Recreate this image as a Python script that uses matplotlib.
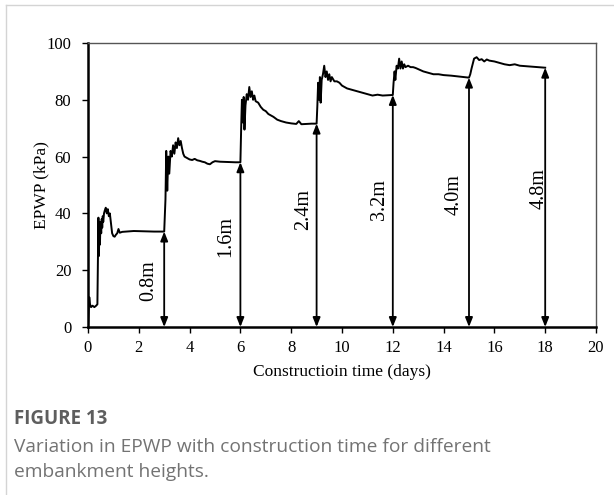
import matplotlib
matplotlib.use("Agg")
import matplotlib.pyplot as plt
from matplotlib.lines import Line2D

# Excess pore water pressure record (time in days, EPWP in kPa)
time_days = [
    0.0, 0.02, 0.05, 0.08, 0.12, 0.18, 0.25, 0.32, 0.37, 0.39, 0.41, 0.43, 0.45, 0.47,
    0.49, 0.52, 0.54, 0.56, 0.58, 0.60, 0.63, 0.66, 0.70, 0.74, 0.78, 0.82, 0.86, 0.90,
    0.95, 1.00, 1.05, 1.10, 1.15, 1.20, 1.25, 1.35, 1.50, 1.80, 2.20, 2.60, 2.95, 3.00,
    3.05, 3.08, 3.12, 3.16, 3.20, 3.25, 3.30, 3.35, 3.40, 3.45, 3.50, 3.55, 3.60, 3.65,
    3.70, 3.75, 3.80, 3.90, 4.00, 4.10, 4.20, 4.30, 4.40, 4.50, 4.60, 4.70, 4.80, 4.90,
    5.00, 5.20, 5.50, 5.80, 6.00,
    6.03, 6.06, 6.10, 6.13, 6.16, 6.20, 6.25, 6.30, 6.35, 6.40, 6.45, 6.50, 6.55, 6.60,
    6.70, 6.80, 6.90, 7.00, 7.10, 7.20, 7.30, 7.45, 7.60, 7.80, 8.00, 8.20, 8.30, 8.40,
    8.60, 8.80, 9.00,
    9.03, 9.06, 9.10, 9.13, 9.16, 9.20, 9.25, 9.30, 9.35, 9.40, 9.45, 9.50, 9.55, 9.60,
    9.70, 9.80, 9.90, 10.0, 10.2, 10.4, 10.6, 10.8, 11.0, 11.2, 11.4, 11.6, 11.8, 12.0,
    12.03, 12.07, 12.10, 12.15, 12.20, 12.25, 12.30, 12.35, 12.40, 12.45, 12.50, 12.60,
    12.70, 12.80, 12.90, 13.0, 13.2, 13.4, 13.6, 13.8, 14.0, 14.3, 14.6, 14.8, 15.0,
    15.05, 15.10, 15.20, 15.30, 15.40, 15.50, 15.60, 15.70, 15.80, 16.0, 16.2, 16.4,
    16.6, 16.8, 17.0, 17.3, 17.6, 17.8, 18.0,
]
epwp_kpa = [
    0.0, 4.0, 10.5, 8.0, 7.0, 7.5, 7.0, 7.5, 8.0, 22.0, 38.5, 25.0, 36.0, 29.0,
    37.0, 33.0, 38.0, 35.0, 39.0, 37.0, 40.0, 41.0, 42.0, 40.0, 41.5, 39.0, 40.0, 37.0,
    33.0, 32.0, 31.8, 32.5, 33.0, 34.5, 33.2, 33.5, 33.6, 33.8, 33.7, 33.6, 33.6, 33.6,
    45.0, 62.0, 48.0, 60.0, 54.0, 62.0, 60.0, 64.0, 61.0, 65.0, 63.0, 66.5, 64.0, 65.5,
    63.0, 61.0, 60.0, 59.5, 59.0, 58.8, 59.2, 58.7, 58.5, 58.2, 58.0, 57.5, 57.3, 58.0,
    58.4, 58.2, 58.1, 58.0, 58.0,
    70.0, 80.0, 72.0, 81.0, 69.5, 78.0, 82.0, 80.0, 84.5, 81.0, 83.0, 80.0, 81.5, 79.5,
    79.0, 77.5, 76.5, 76.0, 75.0, 74.5, 74.0, 73.0, 72.5, 72.0, 71.7, 71.5, 72.5, 71.4,
    71.5, 71.6, 71.6,
    78.0, 86.0, 80.0, 88.0, 79.0, 87.0, 89.0, 92.0, 88.0, 90.0, 87.0, 89.0, 86.5, 88.0,
    86.5, 86.5, 86.0, 85.0, 84.0, 83.5, 83.0, 82.5, 82.0, 81.5, 81.8, 81.5, 81.6, 81.7,
    86.0, 90.0, 87.0, 92.0, 91.0, 94.5, 91.0, 93.5, 91.0, 92.5, 91.5, 92.0,
    91.5, 91.5, 91.2, 90.8, 90.0, 89.5, 89.0, 89.0, 88.7, 88.5, 88.2, 88.0, 87.8,
    89.0, 91.0, 94.5, 95.0, 94.0, 94.3, 93.5, 94.2, 93.8, 93.5, 93.0, 92.5,
    92.2, 92.5, 92.0, 91.8, 91.6, 91.5, 91.3,
]

# Embankment lifts: end time of each stage, EPWP reached, and fill height
lift_times = [3, 6, 9, 12, 15, 18]
lift_epwp = [33.6, 58.0, 71.6, 81.7, 87.8, 91.3]
lift_labels = ["0.8m", "1.6m", "2.4m", "3.2m", "4.0m", "4.8m"]
label_times = [2.4, 5.42, 8.5, 11.46, 14.43, 17.76]
label_levels = [16.5, 31.8, 41.2, 44.7, 46.5, 48.8]

x_ticks = [0, 2, 4, 6, 8, 10, 12, 14, 16, 18, 20]
y_ticks = [0, 20, 40, 60, 80, 100]

serif = ["Liberation Serif", "DejaVu Serif"]
sans = ["Open Sans", "DejaVu Sans"]

fig = plt.figure(figsize=(6.14, 4.95), dpi=100)
fig.patch.set_facecolor("white")

# card outline
fig.add_artist(Line2D([6 / 614, 1.0], [1 - 5 / 495, 1 - 5 / 495],
                      transform=fig.transFigure, color="#d4d4d4", lw=1.0))
fig.add_artist(Line2D([6 / 614, 6 / 614], [0.0, 1 - 5 / 495],
                      transform=fig.transFigure, color="#d4d4d4", lw=1.0))

ax = fig.add_axes([88 / 614, 1 - 327 / 495, (596 - 88) / 614, (327 - 43) / 495])
ax.plot(time_days, epwp_kpa, color="black", lw=1.4, solid_joinstyle="round")

for t, top, lab, lt, ll in zip(lift_times, lift_epwp, lift_labels, label_times, label_levels):
    ax.annotate("", xy=(t, top), xytext=(t, 0),
                arrowprops=dict(arrowstyle="<|-|>,head_length=0.55,head_width=0.22",
                                color="black", lw=1.3, shrinkA=0, shrinkB=0))
    ax.text(lt, ll, lab, rotation=90, ha="center", va="center",
            fontsize=14.5, family=serif)

ax.set_xlim(0, 20)
ax.set_ylim(0, 100)
ax.set_xticks(x_ticks)
ax.set_yticks(y_ticks)
ax.set_xticklabels([str(v) for v in x_ticks], family=serif, fontsize=12)
ax.set_yticklabels([str(v) for v in y_ticks], family=serif, fontsize=12)
ax.tick_params(axis="both", direction="out", length=4, width=1.0, color="black")
ax.tick_params(axis="y", pad=8)
ax.tick_params(axis="x", pad=5)

for side in ("left", "bottom"):
    ax.spines[side].set_linewidth(1.8)
    ax.spines[side].set_color("black")
for side in ("top", "right"):
    ax.spines[side].set_linewidth(1.0)
    ax.spines[side].set_color("#555555")

ax.set_xlabel("Constructioin time (days)", family=serif, fontsize=12.5, labelpad=6)
ax.set_ylabel("EPWP (kPa)", family=serif, fontsize=12.5, labelpad=-2)

fig.text(14 / 614, 1 - 424 / 495, "FIGURE 13", family=sans,
         fontsize=13.5, fontweight="bold", color="#5e5e5e", va="baseline")
fig.text(14 / 614, 1 - 452 / 495, "Variation in EPWP with construction time for different",
         family=sans, fontsize=13.8, color="#737373", va="baseline")
fig.text(14 / 614, 1 - 477 / 495, "embankment heights.",
         family=sans, fontsize=13.8, color="#737373", va="baseline")

fig.savefig("out.png", dpi=100, facecolor="white")
